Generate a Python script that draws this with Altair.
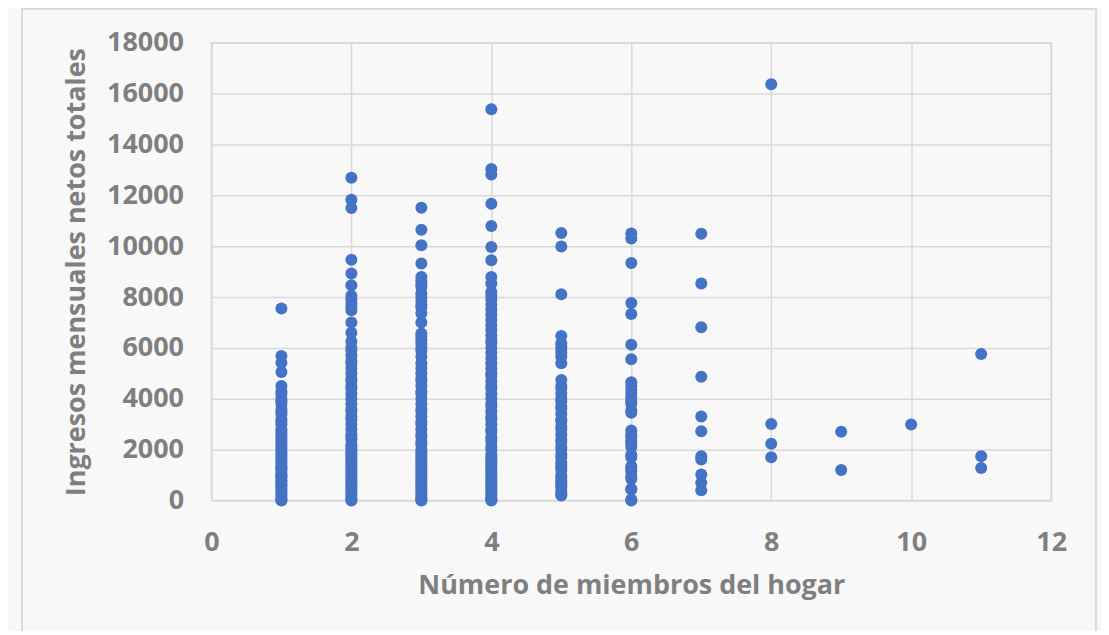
import altair as alt
import pandas as pd

# Household size -> monthly net income values
ingresos_1 = [0, 20, 60, 150, 250, 330, 420, 500, 600, 650, 750, 800, 900, 950, 1000, 1100, 1200, 1250,
              1300, 1400, 1500, 1600, 1700, 1800, 1900, 2000, 2100, 2200, 2300, 2400, 2500, 2600,
              2700, 2800, 3000, 3100, 3200, 3400, 3500, 3600, 3800, 3900, 4000, 4200, 4300, 4500,
              5050, 5420, 5680, 7550]
ingresos_2 = [0, 30, 100, 200, 300, 400, 500, 600, 700, 800, 900, 1000, 1100, 1200, 1300, 1400, 1500,
              1600, 1700, 1800, 1900, 2000, 2100, 2200, 2400, 2500, 2600, 2800, 3000, 3200, 3300,
              3500, 3600, 3800, 4000, 4200, 4400, 4500, 4700, 4800, 5000, 5200, 5400, 5500, 5700,
              5900, 6000, 6250, 6600, 7000, 7480, 7600, 7750, 7900, 8050, 8460, 8930, 9470, 11500,
              11830, 12690]
ingresos_3 = [0, 50, 100, 200, 300, 400, 500, 600, 700, 800, 900, 1000, 1100, 1200, 1300, 1400, 1500,
              1600, 1700, 1800, 1900, 2000, 2200, 2300, 2500, 2600, 2800, 3000, 3100, 3300, 3500,
              3600, 3800, 4000, 4200, 4300, 4500, 4700, 4800, 5000, 5200, 5400, 5650, 5900, 6000,
              6150, 6300, 6450, 6570, 7000, 7360, 7600, 7700, 7850, 8000, 8150, 8400, 8500, 8650,
              8790, 9320, 10040, 10650, 11510]
ingresos_4 = [0, 40, 100, 200, 300, 400, 500, 600, 700, 800, 900, 1000, 1100, 1200, 1300, 1400, 1500,
              1600, 1700, 1800, 2000, 2100, 2300, 2400, 2500, 2700, 2800, 3000, 3200, 3300, 3500,
              3700, 3800, 4000, 4200, 4400, 4500, 4700, 4900, 5000, 5200, 5400, 5600, 5800, 6000,
              6200, 6300, 6500, 6700, 6900, 7100, 7300, 7500, 7700, 7900, 8050, 8200, 8530, 8790,
              9450, 9970, 10790, 11670, 12820, 13040, 15390]
ingresos_5 = [200, 250, 350, 500, 600, 700, 800, 900, 1000, 1200, 1300, 1400, 1500, 1700, 1800, 2000,
              2100, 2300, 2400, 2600, 2800, 2900, 3100, 3200, 3400, 3600, 3700, 3900, 4000, 4200,
              4400, 4500, 4740, 5400, 5650, 5800, 5920, 6050, 6180, 6470, 8110, 9990, 10520]
ingresos_6 = [0, 40, 430, 450, 850, 950, 1150, 1250, 1350, 1700, 1800, 2100, 2250, 2350, 2500, 2600,
              2750, 3450, 3550, 3800, 3900, 4050, 4200, 4350, 4500, 4650, 5550, 6120, 7330, 7770,
              9340, 10300, 10500]
ingresos_7 = [400, 700, 1020, 1610, 1740, 2720, 3300, 4870, 6810, 8530, 10490]
ingresos_8 = [1700, 2230, 3010, 16370]
ingresos_9 = [1200, 2700]
ingresos_10 = [2990]
ingresos_11 = [1280, 1740, 5760]

columnas = {1: ingresos_1, 2: ingresos_2, 3: ingresos_3, 4: ingresos_4, 5: ingresos_5,
            6: ingresos_6, 7: ingresos_7, 8: ingresos_8, 9: ingresos_9, 10: ingresos_10,
            11: ingresos_11}

rows = []
for miembros, valores in columnas.items():
    for v in valores:
        rows.append({"miembros": miembros, "ingresos": v})
df = pd.DataFrame(rows)

FONT = "Open Sans"
GRAY = "#7f7f7f"

frame = alt.Chart(alt.Data(values=[{}])).mark_rect(
    fillOpacity=0, stroke="#d9d9d9", strokeWidth=2
).encode(
    x=alt.value(-190), x2=alt.value(887), y=alt.value(-34), y2=alt.value(640)
)

points = alt.Chart(df).mark_circle(size=145, color="#4472C4", opacity=1).encode(
    x=alt.X("miembros:Q",
            scale=alt.Scale(domain=[0, 12], nice=False),
            axis=alt.Axis(values=[0, 2, 4, 6, 8, 10, 12], title="Número de miembros del hogar",
                          labelPadding=29, titlePadding=17, labelFlush=False)),
    y=alt.Y("ingresos:Q",
            scale=alt.Scale(domain=[0, 18000], nice=False),
            axis=alt.Axis(values=[0, 2000, 4000, 6000, 8000, 10000, 12000, 14000, 16000, 18000],
                          title="Ingresos mensuales netos totales", labelPadding=28,
                          titlePadding=16, labelFlush=False)),
)

chart = alt.layer(points, frame).properties(
    width=842, height=459,
    autosize=alt.AutoSizeParams(type="none"),
    padding={"left": 204, "top": 34, "right": 50, "bottom": 130},
    background="#f8f8f8",
).configure_view(
    stroke="#d9d9d9", strokeWidth=1.5
).configure_axis(
    labelFont=FONT, titleFont=FONT, labelFontSize=27, titleFontSize=27,
    labelFontWeight="bold", titleFontWeight="bold",
    labelColor=GRAY, titleColor=GRAY,
    grid=True, gridColor="#d9d9d9", gridWidth=1.5,
    domain=False, ticks=False,
    format="d",
)

chart.save("out.html", embed_options={"renderer": "svg", "actions": False})
